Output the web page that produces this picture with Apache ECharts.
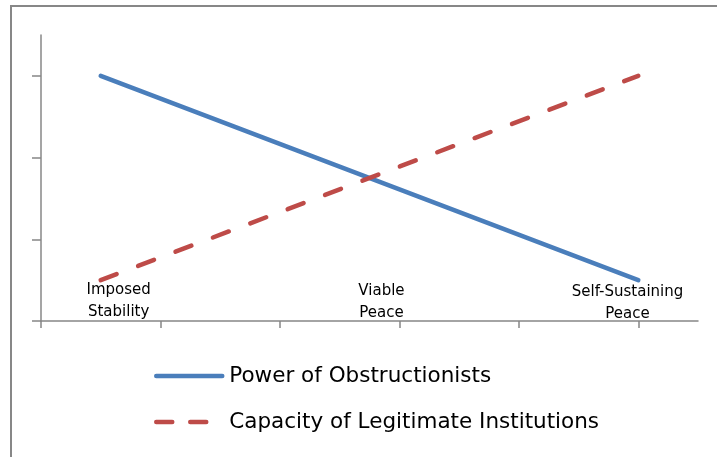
<!DOCTYPE html>
<html><head><meta charset="utf-8">
<script src="https://cdn.jsdelivr.net/npm/echarts@6/dist/echarts.min.js"></script>
<style>html,body{margin:0;padding:0;background:#fff}#c{width:717px;height:457px}</style>
</head><body><div id="c"></div>
<script>
// Data
const seriesNames = ['Power of Obstructionists', 'Capacity of Legitimate Institutions'];
const xValues = [0.5, 5];
const powerObstructionists = [3, 0.5];
const capacityInstitutions = [0.5, 3];
const stageNames = ['Imposed\nStability', 'Viable\nPeace', 'Self-Sustaining\nPeace'];
const stageX = [0.65, 2.85, 4.91];
const stageY = [0.24, 0.23, 0.22];
const xTicks = [0, 1, 2, 3, 4, 5];
const yTicks = [0, 1, 2, 3];

const axisColor = '#878787';
const blue = '#4a7ebb', red = '#be4b48';
const chart = echarts.init(document.getElementById('c'), null, {renderer: 'canvas'});
chart.setOption({
  animation: false,
  graphic: [{
    type: 'rect', shape: {x: 11, y: 6, width: 720, height: 470},
    style: {fill: 'none', stroke: axisColor, lineWidth: 2}, silent: true, z: -1
  }],
  grid: {left: 41, top: 35, width: 657, height: 286, containLabel: false},
  xAxis: {
    type: 'value', min: 0, max: 5.5, interval: 1,
    axisLine: {show: true, onZero: false, lineStyle: {color: axisColor, width: 1.5}},
    axisTick: {show: true, customValues: xTicks, length: 7, lineStyle: {color: axisColor, width: 1.5}},
    axisLabel: {show: false}, splitLine: {show: false}
  },
  yAxis: {
    type: 'value', min: 0, max: 3.5, interval: 1,
    axisLine: {show: true, onZero: false, lineStyle: {color: axisColor, width: 1.5}},
    axisTick: {show: true, customValues: yTicks, length: 9, lineStyle: {color: axisColor, width: 1.5}},
    axisLabel: {show: false}, splitLine: {show: false}
  },
  legend: {
    data: [
      {name: seriesNames[0], lineStyle: {color: blue, width: 4.5, type: 'solid', cap: 'round'}},
      {name: seriesNames[1], lineStyle: {color: red, width: 4.5, type: [16, 18], cap: 'round'}}
    ],
    orient: 'vertical', left: 154, top: 365, padding: 0,
    itemWidth: 66, itemHeight: 12, itemGap: 24,
    itemStyle: {opacity: 0},
    textStyle: {fontFamily: 'DejaVu Sans', fontSize: 21.5, color: '#000', padding: [0, 0, 0, 2]}
  },
  series: [
    {
      name: seriesNames[0], type: 'line', symbol: 'none',
      data: xValues.map((x, i) => [x, powerObstructionists[i]]),
      lineStyle: {color: blue, width: 4.5, cap: 'round'},
      itemStyle: {color: blue}
    },
    {
      name: seriesNames[1], type: 'line', symbol: 'none',
      data: xValues.map((x, i) => [x, capacityInstitutions[i]]),
      lineStyle: {color: red, width: 4.5, type: [17, 23], cap: 'round'},
      itemStyle: {color: red}
    },
    {
      name: 'stages', type: 'scatter', symbolSize: 0, silent: true,
      itemStyle: {opacity: 1},
      data: stageNames.map((n, i) => ({name: n, value: [stageX[i], stageY[i]]})),
      label: {
        show: true, position: 'inside', formatter: p => p.name, opacity: 1,
        fontFamily: 'DejaVu Sans', fontSize: 15, lineHeight: 22, color: '#000', align: 'center'
      }
    }
  ]
});
</script></body></html>
